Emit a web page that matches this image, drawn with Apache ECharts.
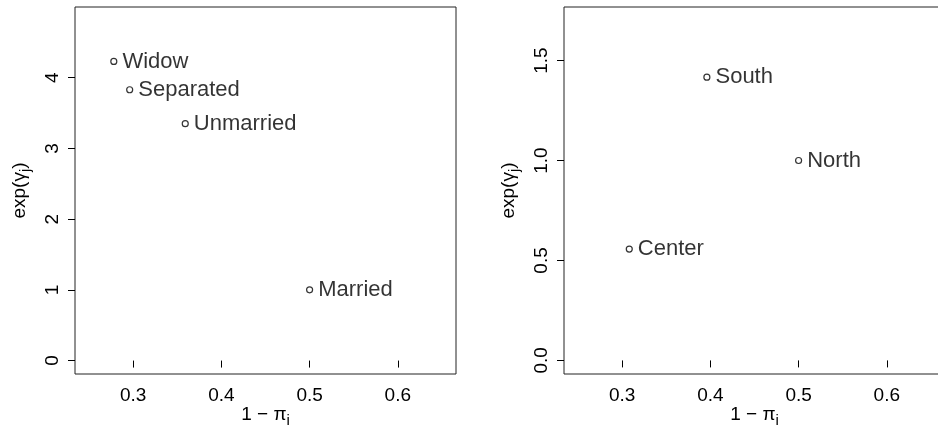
<!DOCTYPE html>
<html>
<head>
<meta charset="utf-8">
<script src="https://cdn.jsdelivr.net/npm/echarts@6/dist/echarts.min.js"></script>
<style>html,body{margin:0;padding:0;background:#fff;}#c{width:938px;height:425px;}</style>
</head>
<body>
<div id="c"></div>
<script>
const maritalNames = ['Widow', 'Separated', 'Unmarried', 'Married'];
const maritalX = [0.278, 0.296, 0.359, 0.5];
const maritalY = [4.23, 3.83, 3.35, 1.0];
const regionNames = ['South', 'North', 'Center'];
const regionX = [0.396, 0.5, 0.308];
const regionY = [1.417, 1.0, 0.557];
const xTicks = [0.3, 0.4, 0.5, 0.6];
const leftYTicks = [0, 1, 2, 3, 4];
const rightYTicks = [0, 0.5, 1.0, 1.5];

const FONT = "'Liberation Sans', Arial, Helvetica, sans-serif";
const chart = echarts.init(document.getElementById('c'), null, {renderer: 'canvas'});

function pts(names, xs, ys) {
  return names.map((n, i) => ({name: n, value: [xs[i], ys[i]]}));
}
const nameRich = {
  n: {fontSize: 19, fontFamily: FONT, color: '#000'},
  s: {fontSize: 15, fontFamily: FONT, color: '#000', padding: [12, 0, 0, 0]}
};
function xAxis(idx) {
  return {
    type: 'value', gridIndex: idx, min: 0.234, max: 0.666,
    name: '{n|1 − π}{s|i}', nameLocation: 'middle', nameGap: 27, nameMoveOverlap: false,
    nameTextStyle: {rich: nameRich},
    axisLine: {show: false},
    splitLine: {show: false},
    axisTick: {show: true, length: 7, customValues: xTicks, lineStyle: {color: '#000', width: 1}},
    axisLabel: {customValues: xTicks, margin: 12, fontSize: 19, fontFamily: FONT, color: '#000',
      formatter: v => v.toFixed(1)}
  };
}
function yAxis(idx, min, max, ticks, fmt) {
  return {
    type: 'value', gridIndex: idx, min: min, max: max,
    name: '{n|exp(γ}{s|j}{n|)}', nameLocation: 'middle', nameGap: 42, nameMoveOverlap: false,
    nameTextStyle: {rich: nameRich},
    axisLine: {show: false},
    splitLine: {show: false},
    axisTick: {show: true, length: 7, customValues: ticks, lineStyle: {color: '#000', width: 1}},
    axisLabel: {customValues: ticks, margin: 13, rotate: 90, fontSize: 19, fontFamily: FONT, color: '#000',
      formatter: fmt}
  };
}
function series(idx, data) {
  return {
    type: 'scatter', xAxisIndex: idx, yAxisIndex: idx, data: data,
    symbol: 'circle', symbolSize: 6,
    itemStyle: {color: '#fff', borderColor: '#000', borderWidth: 1.2},
    label: {show: true, position: 'right', distance: 5, formatter: '{b}', fontSize: 22, fontFamily: FONT, color: '#000'},
    emphasis: {disabled: true}
  };
}
chart.setOption({
  animation: false,
  backgroundColor: '#fff',
  grid: [
    {left: 75, top: 7, width: 381, height: 367, outerBoundsMode: 'none', containLabel: false,
     show: true, borderColor: '#222', borderWidth: 1, backgroundColor: 'transparent'},
    {left: 564, top: 7, width: 381, height: 367, outerBoundsMode: 'none', containLabel: false,
     show: true, borderColor: '#222', borderWidth: 1, backgroundColor: 'transparent'}
  ],
  xAxis: [xAxis(0), xAxis(1)],
  yAxis: [
    yAxis(0, -0.19, 5.0, leftYTicks, v => String(Math.round(v))),
    yAxis(1, -0.068, 1.768, rightYTicks, v => v.toFixed(1))
  ],
  series: [
    series(0, pts(maritalNames, maritalX, maritalY)),
    series(1, pts(regionNames, regionX, regionY))
  ]
});
</script>
</body>
</html>
